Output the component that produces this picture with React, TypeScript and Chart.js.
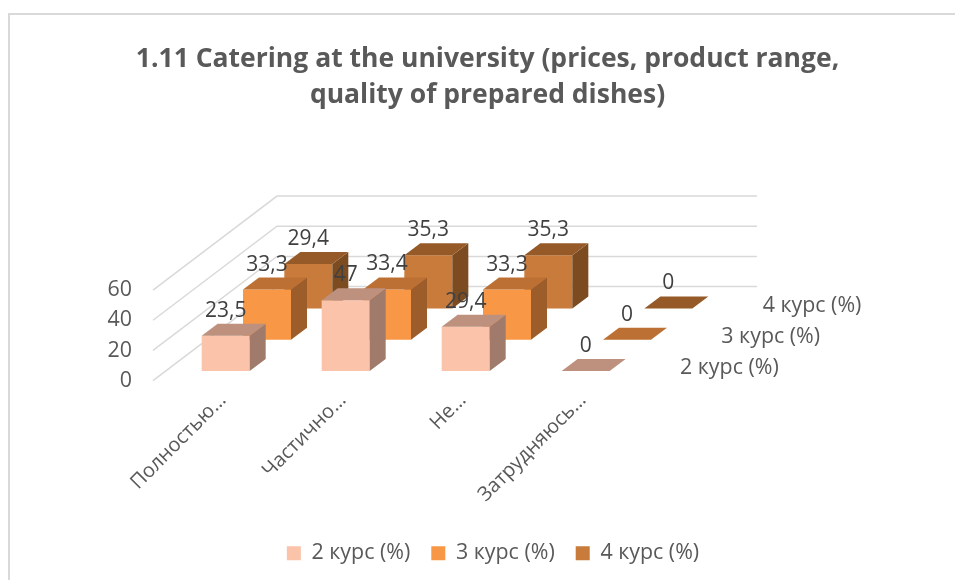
import React, { useEffect, useRef } from "react";
import { Chart, registerables } from "chart.js";

Chart.register(...registerables);

const categories = ["Полностью…", "Частично…", "Не…", "Затрудняюсь…"];
const course2 = [23.5, 47, 29.4, 0];
const course3 = [33.3, 33.4, 33.3, 0];
const course4 = [29.4, 35.3, 35.3, 0];
const seriesNames = ["2 курс (%)", "3 курс (%)", "4 курс (%)"];
const yTicks = [0, 20, 40, 60];

const faceColors = [
  { front: "#FBC3AA", top: "#BD917D", side: "#A07A6A" },
  { front: "#F89746", top: "#BC7033", side: "#9C5D2A" },
  { front: "#C87B3A", top: "#955A28", side: "#7C4B20" },
];

const FONT = '"Open Sans", sans-serif';
const STEP_X = 41.33;
const STEP_Y = 31.33;
const BOX_X = 16;
const BOX_Y = 12;
const LEAD_X = 12.67;
const LEAD_Y = 9.5;

function fmt(v: number) {
  return String(v).replace(".", ",");
}

const box3d = {
  id: "box3d",
  afterLayout(chart: any) {
    chart.legend.left += 5.5;
    chart.legend.right += 5.5;
  },
  beforeDatasetDraw() {
    return false;
  },
  beforeDatasetsDraw(chart: any) {
    const { ctx, scales } = chart;
    const x = scales.x;
    const y = scales.y;
    const wallX = STEP_X * 3;
    const wallY = STEP_Y * 3;
    ctx.save();
    ctx.strokeStyle = "#D9D9D9";
    ctx.lineWidth = 1.5;
    yTicks.forEach((t) => {
      const py = y.getPixelForValue(t);
      ctx.beginPath();
      ctx.moveTo(x.left, py);
      ctx.lineTo(x.left + wallX, py - wallY);
      ctx.lineTo(x.right + wallX, py - wallY);
      ctx.stroke();
    });
    for (let s = chart.data.datasets.length - 1; s >= 0; s--) {
      const meta = chart.getDatasetMeta(s);
      const c = faceColors[s];
      const dx = LEAD_X + s * STEP_X;
      const dy = LEAD_Y + s * STEP_Y;
      meta.data.forEach((bar: any) => {
        const { x: cx, y: top, base, width } = bar.getProps(["x", "y", "base", "width"], true);
        const l = cx - width / 2 + dx;
        const r = cx + width / 2 + dx;
        const t = top - dy;
        const b = base - dy;
        const poly = (pts: number[][], fill: string) => {
          ctx.beginPath();
          pts.forEach(([px, py], i) => (i ? ctx.lineTo(px, py) : ctx.moveTo(px, py)));
          ctx.closePath();
          ctx.fillStyle = fill;
          ctx.fill();
        };
        if (b - t > 0.5) {
          poly([[l, t], [r, t], [r, b], [l, b]], c.front);
          poly([[r, t], [r + BOX_X, t - BOX_Y], [r + BOX_X, b - BOX_Y], [r, b]], c.side);
        }
        poly([[l, t], [r, t], [r + BOX_X, t - BOX_Y], [l + BOX_X, t - BOX_Y]], c.top);
      });
    }
    ctx.restore();
  },
  afterDatasetsDraw(chart: any) {
    const { ctx, scales } = chart;
    ctx.save();
    ctx.font = `21px ${FONT}`;
    ctx.fillStyle = "#404040";
    ctx.textAlign = "center";
    ctx.textBaseline = "middle";
    chart.data.datasets.forEach((ds: any, s: number) => {
      const dx = LEAD_X + s * STEP_X;
      const dy = LEAD_Y + s * STEP_Y;
      chart.getDatasetMeta(s).data.forEach((bar: any, i: number) => {
        ctx.fillText(fmt(ds.data[i]), bar.x + dx, bar.y - dy - 25);
      });
    });
    ctx.font = `21.4px ${FONT}`;
    ctx.fillStyle = "#595959";
    ctx.textAlign = "left";
    chart.data.datasets.forEach((ds: any, s: number) => {
      const px = scales.x.right + 47 + s * STEP_X;
      const py = scales.y.bottom - 12.5 - s * STEP_Y;
      ctx.fillText(ds.label, px, py);
    });
    ctx.restore();
  },
};

export default function App() {
  const ref = useRef<HTMLCanvasElement | null>(null);
  useEffect(() => {
    const data = [course2, course3, course4];
    const chart = new Chart(ref.current as HTMLCanvasElement, {
      type: "bar",
      data: {
        labels: categories,
        datasets: seriesNames.map((name, i) => ({
          label: name,
          data: data[i],
          backgroundColor: faceColors[i].front,
          grouped: false,
          barPercentage: 0.4,
          categoryPercentage: 1,
        })),
      },
      plugins: [box3d],
      options: {
        animation: false,
        responsive: false,
        layout: { padding: { top: 41, bottom: 6, left: 20, right: 0 } },
        plugins: {
          tooltip: { enabled: false },
          title: {
            display: true,
            text: ["1.11 Catering at the university (prices, product range,", "quality of prepared dishes)"],
            color: "#595959",
            font: { family: FONT, size: 26.5, weight: "bold", lineHeight: 1.36 },
            padding: { top: 0, bottom: 177 },
          },
          legend: {
            position: "bottom",
            labels: {
              boxWidth: 14,
              boxHeight: 14,
              padding: 21,
              color: "#595959",
              font: { family: FONT, size: 21.4 },
            },
          },
        },
        scales: {
          x: {
            grid: { display: false },
            border: { display: false },
            ticks: {
              color: "#595959",
              font: { family: FONT, size: 20 },
              minRotation: 45,
              maxRotation: 45,
              padding: 0,
              labelOffset: 10,
              autoSkip: false,
            },
            afterFit(s: any) {
              s.height = 141;
              s.paddingLeft = 0;
              s.paddingRight = 0;
            },
          },
          y: {
            min: 0,
            max: 60,
            afterBuildTicks(s: any) {
              s.ticks = yTicks.map((value) => ({ value }));
            },
            grid: { display: false },
            border: { display: false },
            ticks: {
              color: "#595959",
              font: { family: FONT, size: 21.4 },
              padding: 13,
            },
            afterFit(s: any) {
              s.width = 133;
            },
          },
          depth: {
            position: "right",
            display: true,
            grid: { display: false },
            border: { display: false },
            ticks: { display: false },
            afterFit(s: any) {
              s.width = 322;
            },
          },
        },
      } as any,
    });
    return () => chart.destroy();
  }, []);
  return (
    <div style={{ position: "absolute", left: 0, top: 0, width: 955, height: 580, overflow: "hidden", background: "#fff" }}>
      <canvas ref={ref} width={955} height={580} style={{ display: "block" }} />
      <div style={{ position: "absolute", left: 8, top: 13, width: 2, height: 567, background: "#D9D9D9" }} />
      <div style={{ position: "absolute", left: 8, top: 13, width: 947, height: 2, background: "#D9D9D9" }} />
    </div>
  );
}
